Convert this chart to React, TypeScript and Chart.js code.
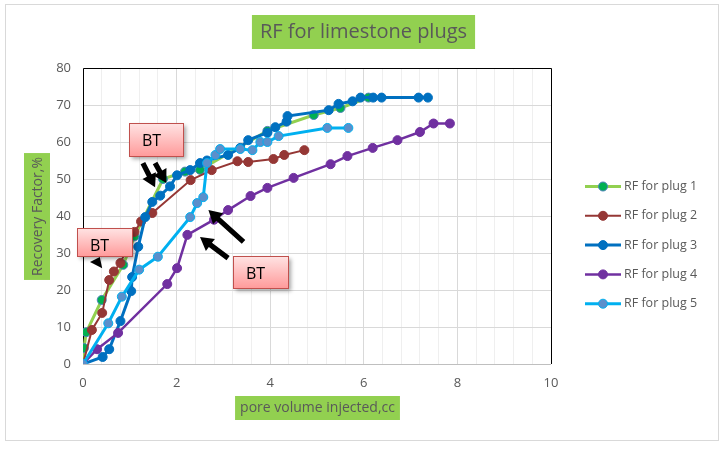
import React, { useEffect, useRef } from "react";
import { Chart, registerables } from "chart.js";
Chart.register(...registerables);

const seriesNames = ["RF for plug 1", "RF for plug 2", "RF for plug 3", "RF for plug 4", "RF for plug 5"];

const plug1X = [0, 0.02, 0.07, 0.4, 0.86, 1.1, 1.71, 2.18, 2.5, 3.94, 4.93, 5.5, 6.1];
const plug1Y = [0, 4.3, 8.6, 17.3, 26.8, 34.5, 50, 52, 52.5, 63, 67.3, 69.2, 72];

const plug2X = [0, 0.19, 0.41, 0.56, 0.66, 0.8, 1.1, 1.24, 1.48, 2.3, 2.75, 3.3, 3.53, 4.07, 4.3, 4.73];
const plug2Y = [0, 9.2, 13.8, 22.7, 25, 27.3, 35.7, 38.5, 40.8, 49.7, 52.4, 54.8, 54.6, 55.4, 56.5, 57.8];

const plug3X = [0, 0.42, 0.56, 0.8, 1.03, 1.05, 1.18, 1.33, 1.48, 1.65, 1.86, 2.01, 2.29, 2.5, 2.65, 3.1, 3.36, 3.53, 3.94, 4.11, 4.35, 4.37, 5.25, 5.46, 5.76, 5.93, 6.2, 6.38, 7.17, 7.37];
const plug3Y = [0, 1.9, 4, 11.6, 19.7, 23.5, 31.7, 39.7, 43.8, 45.5, 48, 51, 52.4, 54.3, 55, 56.5, 58.4, 60.5, 62.5, 64, 65.5, 67, 68.6, 70.3, 71, 72, 72, 72, 72, 72];

const plug4X = [0, 0.3, 0.75, 1.8, 2.01, 2.23, 2.8, 3.1, 3.58, 3.94, 4.5, 5.29, 5.65, 6.19, 6.72, 7.2, 7.49, 7.84];
const plug4Y = [0, 4, 8.4, 21.6, 25.9, 34.9, 39, 41.6, 45.4, 47.6, 50.3, 54, 56.2, 58.4, 60.5, 62.7, 65, 65];

const plug5X = [0, 0.54, 0.83, 1.2, 1.6, 2.29, 2.44, 2.57, 2.65, 2.83, 2.93, 3.36, 3.62, 3.79, 3.94, 4.18, 5.22, 5.67];
const plug5Y = [0, 11, 18.2, 25.5, 29, 39.7, 43.5, 45.1, 54.3, 56.5, 58.1, 58.1, 57.8, 60, 60, 61.6, 63.8, 63.8];

const xTickLabels = ["0", "2", "4", "6", "8", "10"];
const yTickLabels = ["0", "10", "20", "30", "40", "50", "60", "70", "80"];

// annotation boxes (data coordinates)
const btBoxes = [
  { x0: 0.99, x1: 2.14, y0: 65.1, y1: 56.2 },
  { x0: -0.13, x1: 1.05, y0: 36.8, y1: 29.2 },
  { x0: 3.21, x1: 4.37, y0: 29.2, y1: 20.5 },
];
const btArrows = [
  { fx: 1.28, fy: 54.3, tx: 1.54, ty: 47.8 },
  { fx: 1.54, fy: 54.3, tx: 1.78, ty: 48.9 },
  { fx: 3.43, fy: 33, tx: 2.68, ty: 41.6 },
  { fx: 3.1, fy: 28.6, tx: 2.5, ty: 34.3 },
];
const btTriangle = [
  [0.15, 27.6],
  [0.36, 28.9],
  [0.41, 25.9],
];

const lineColors = ["#92D050", "#953735", "#0070C0", "#7030A0", "#00B0F0"];
const pointFills = ["#00B050", "#953735", "#0070C0", "#7030A0", "#5B8FCB"];
const pointBorders = ["#4F81BD", "#953735", "#0070C0", "#7030A0", "#00B0F0"];
const lineWidths = [3, 2, 3, 2.5, 3];

const FONT = "'Open Sans', 'Liberation Sans', sans-serif";
const TEXT = "#595959";

function zip(xs: number[], ys: number[]) {
  return xs.map((x, i) => ({ x, y: ys[i] }));
}

const decor = {
  id: "decor",
  beforeDraw(chart: any) {
    const ctx = chart.ctx as CanvasRenderingContext2D;
    ctx.save();
    ctx.fillStyle = "#fff";
    ctx.fillRect(0, 0, chart.width, chart.height);
    ctx.strokeStyle = "#D9D9D9";
    ctx.lineWidth = 1;
    ctx.strokeRect(5.5, 4.5, 713, 436);

    // title
    ctx.font = `20px ${FONT}`;
    const title = "RF for limestone plugs";
    const tw = ctx.measureText(title).width;
    const cx = 363.5;
    ctx.fillStyle = "#92D050";
    ctx.fillRect(cx - tw / 2 - 8, 15, tw + 16, 34);
    ctx.fillStyle = TEXT;
    ctx.textAlign = "center";
    ctx.textBaseline = "middle";
    ctx.fillText(title, cx, 32.5);

    // x title
    ctx.font = `14px ${FONT}`;
    const xt = "pore volume injected,cc";
    const xw = ctx.measureText(xt).width;
    const xcx = 317.5;
    ctx.fillStyle = "#92D050";
    ctx.fillRect(xcx - xw / 2 - 5, 396, xw + 10, 24);
    ctx.fillStyle = TEXT;
    ctx.fillText(xt, xcx, 408.5);

    // y title
    const yt = "Recovery Factor,%";
    const yw = ctx.measureText(yt).width;
    ctx.translate(37, 216.5);
    ctx.rotate(-Math.PI / 2);
    ctx.fillStyle = "#92D050";
    ctx.fillRect(-yw / 2 - 4, -13, yw + 8, 26);
    ctx.fillStyle = TEXT;
    ctx.fillText(yt, 0, 1);
    ctx.restore();
  },
  beforeDatasetsDraw(chart: any) {
    const ctx = chart.ctx as CanvasRenderingContext2D;
    const a = chart.chartArea;
    ctx.save();
    ctx.lineWidth = 1;
    ctx.strokeStyle = "#BFBFBF";
    ctx.beginPath();
    ctx.moveTo(a.left, Math.round(a.bottom) + 0.5);
    ctx.lineTo(a.right, Math.round(a.bottom) + 0.5);
    ctx.stroke();
    ctx.strokeStyle = "#000";
    ctx.beginPath();
    ctx.moveTo(Math.round(a.left) + 0.5, Math.round(a.bottom));
    ctx.lineTo(Math.round(a.left) + 0.5, Math.round(a.top) + 0.5);
    ctx.lineTo(Math.round(a.right) + 0.5, Math.round(a.top) + 0.5);
    ctx.lineTo(Math.round(a.right) + 0.5, Math.round(a.bottom));
    ctx.stroke();
    ctx.restore();
  },
  afterDatasetsDraw(chart: any) {
    const ctx = chart.ctx as CanvasRenderingContext2D;
    const xs = chart.scales.x;
    const ys = chart.scales.y;
    ctx.save();
    // arrows
    ctx.fillStyle = "#000";
    for (const ar of btArrows) {
      const fx = xs.getPixelForValue(ar.fx);
      const fy = ys.getPixelForValue(ar.fy);
      const tx = xs.getPixelForValue(ar.tx);
      const ty = ys.getPixelForValue(ar.ty);
      const ang = Math.atan2(ty - fy, tx - fx);
      const len = Math.hypot(tx - fx, ty - fy);
      ctx.save();
      ctx.translate(fx, fy);
      ctx.rotate(ang);
      const head = 13;
      const hw = 7.5;
      const sw = 2.6;
      ctx.beginPath();
      ctx.moveTo(0, -sw);
      ctx.lineTo(len - head, -sw);
      ctx.lineTo(len - head, -hw);
      ctx.lineTo(len, 0);
      ctx.lineTo(len - head, hw);
      ctx.lineTo(len - head, sw);
      ctx.lineTo(0, sw);
      ctx.closePath();
      ctx.fill();
      ctx.restore();
    }
    ctx.beginPath();
    btTriangle.forEach((p, i) => {
      const px = xs.getPixelForValue(p[0]);
      const py = ys.getPixelForValue(p[1]);
      if (i === 0) ctx.moveTo(px, py);
      else ctx.lineTo(px, py);
    });
    ctx.closePath();
    ctx.fill();

    // boxes
    for (const b of btBoxes) {
      const x0 = Math.round(xs.getPixelForValue(b.x0)) + 0.5;
      const x1 = Math.round(xs.getPixelForValue(b.x1)) + 0.5;
      const y0 = Math.round(ys.getPixelForValue(b.y0)) + 0.5;
      const y1 = Math.round(ys.getPixelForValue(b.y1)) + 0.5;
      const g = ctx.createLinearGradient(0, y0, 0, y1);
      g.addColorStop(0, "#FFE3E3");
      g.addColorStop(1, "#FF9A9A");
      ctx.save();
      ctx.shadowColor = "rgba(0,0,0,0.35)";
      ctx.shadowBlur = 4;
      ctx.shadowOffsetX = 2;
      ctx.shadowOffsetY = 2;
      ctx.fillStyle = g;
      ctx.fillRect(x0, y0, x1 - x0, y1 - y0);
      ctx.restore();
      ctx.strokeStyle = "#C0504D";
      ctx.lineWidth = 1;
      ctx.strokeRect(x0, y0, x1 - x0, y1 - y0);
      ctx.fillStyle = "#000";
      ctx.font = `16px ${FONT}`;
      ctx.textAlign = "left";
      ctx.textBaseline = "middle";
      ctx.fillText("BT", x0 + 12.5, y0 + 18);
    }
    ctx.restore();
  },
  afterDraw(chart: any) {
    const ctx = chart.ctx as CanvasRenderingContext2D;
    ctx.save();
    ctx.font = `12.5px ${FONT}`;
    ctx.textAlign = "left";
    ctx.textBaseline = "middle";
    seriesNames.forEach((name, i) => {
      const y = 186.5 + i * 29.3;
      ctx.strokeStyle = lineColors[i];
      ctx.lineWidth = lineWidths[i];
      ctx.beginPath();
      ctx.moveTo(585, y);
      ctx.lineTo(621, y);
      ctx.stroke();
      ctx.beginPath();
      ctx.arc(603, y, 4.5, 0, Math.PI * 2);
      ctx.fillStyle = pointFills[i];
      ctx.fill();
      ctx.lineWidth = 1;
      ctx.strokeStyle = pointBorders[i];
      ctx.stroke();
      ctx.fillStyle = TEXT;
      ctx.fillText(name, 624, y);
    });
    ctx.restore();
  },
};

export default function App() {
  const ref = useRef<HTMLCanvasElement | null>(null);
  useEffect(() => {
    document.body.style.margin = "0";
    if (!ref.current) return;
    const allX = [plug1X, plug2X, plug3X, plug4X, plug5X];
    const allY = [plug1Y, plug2Y, plug3Y, plug4Y, plug5Y];
    const chart = new Chart(ref.current, {
      type: "line",
      data: {
        datasets: seriesNames.map((name, i) => ({
          label: name,
          data: zip(allX[i], allY[i]),
          borderColor: lineColors[i],
          backgroundColor: pointFills[i],
          borderWidth: lineWidths[i],
          pointBackgroundColor: pointFills[i],
          pointBorderColor: pointBorders[i],
          pointBorderWidth: 1,
          pointRadius: 4.5,
          pointHoverRadius: 4.5,
          tension: 0,
          fill: false,
          order: 5 - i,
        })),
      },
      options: {
        animation: false,
        responsive: false,
        events: [],
        layout: { padding: { left: 0, right: 177, top: 68, bottom: 0 } },
        plugins: { legend: { display: false }, tooltip: { enabled: false }, title: { display: false } },
        scales: {
          x: {
            type: "linear",
            min: 0,
            max: 10,
            afterFit: (s: any) => {
              s.height = 85;
            },
            border: { display: false },
            grid: {
              drawTicks: false,
              color: (c: any) => {
                const v = c.tick ? c.tick.value : 0;
                return Math.abs(v / 2 - Math.round(v / 2)) < 1e-6 ? "#D9D9D9" : "#EFEFEF";
              },
              lineWidth: 1,
            },
            ticks: {
              stepSize: 0.4,
              autoSkip: false,
              maxRotation: 0,
              padding: 11,
              color: TEXT,
              font: { family: FONT, size: 13 },
              callback: (v: any) => {
                const n = Number(v);
                if (Math.abs(n / 2 - Math.round(n / 2)) < 1e-6) return xTickLabels[Math.round(n / 2)];
                return "";
              },
            },
          },
          y: {
            type: "linear",
            min: 0,
            max: 80,
            afterFit: (s: any) => {
              s.width = 83;
            },
            border: { display: false },
            grid: { drawTicks: false, color: "#D9D9D9", lineWidth: 1 },
            ticks: {
              stepSize: 10,
              padding: 12,
              color: TEXT,
              font: { family: FONT, size: 13 },
              callback: (v: any) => yTickLabels[Math.round(Number(v) / 10)],
            },
          },
        },
      },
      plugins: [decor],
    } as any);
    return () => chart.destroy();
  }, []);
  return (
    <div style={{ width: 728, height: 449, position: "relative" }}>
      <canvas ref={ref} width={728} height={449} style={{ display: "block" }} />
    </div>
  );
}
